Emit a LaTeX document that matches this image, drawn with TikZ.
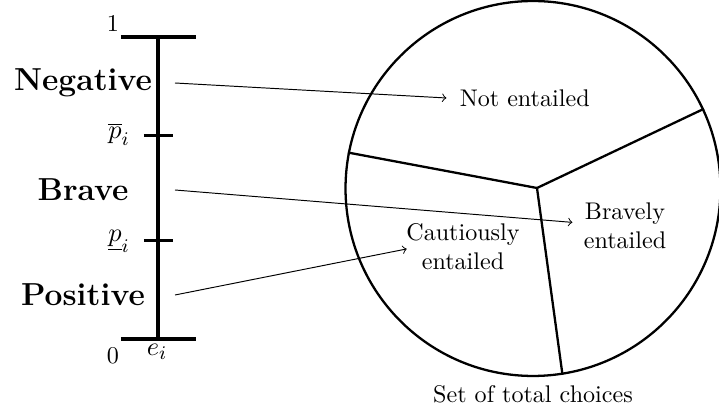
\documentclass[tikz,border=0pt]{standalone}
\usetikzlibrary{calc}
\begin{document}
\begin{tikzpicture}[x=0.415pt,y=-0.415pt,
  scaleline/.style={line width=1.4pt},
  part/.style={line width=0.95pt},
  pointer/.style={->, line width=0.4pt},
  catlabel/.style={font=\fontsize{13.2}{16}\selectfont\bfseries},
  mlabel/.style={font=\fontsize{11}{13}\selectfont},
  region/.style={align=center}]
\useasboundingbox (0,0) rectangle (719,413);

% the interval [0,1] for e_i with its two thresholds
\coordinate (top) at (158,37);
\coordinate (bot) at (158,339);
\draw[scaleline] (top) -- (bot);
\draw[scaleline] (121,37) -- (196,37);
\draw[scaleline] (121,339) -- (196,339);
\draw[scaleline] (144,135.3) -- (173.3,135.3);
\draw[scaleline] (144,240.7) -- (173.3,240.7);

\node (one)  at (113,23)  {1};
\node (zero) at (113,356) {0};
\node[mlabel] (ei)   at (157,352) {$e_i$};
\node[mlabel] (pbar) at (119,134) {$\overline{p}_i$};
\node[mlabel] (pund) at (119,241) {$\underline{p}_i$};

\node[catlabel] (neg) at (83,83)  {Negative};
\node[catlabel] (brv) at (83,190) {Brave};
\node[catlabel] (pos) at (83,295) {Positive};

% the set of total choices and its three parts
\node[draw, circle, part, minimum size=155.6pt, inner sep=0pt,
      label={below:Set of total choices}] (tc) at (533,188.5) {};
\coordinate (jn) at (537,188);
\draw[part] (tc.169.8) -- (jn) -- (tc.25.5);
\draw[part] (jn) -- (tc.-81);

\node[region] (notent) at (524.7,98)  {Not entailed};
\node[region] (brav)   at (625,226)   {Bravely\\entailed};
\node[region] (caut)   at (463,247)   {Cautiously\\entailed};

% pointers from each range of e_i to its part
\coordinate (src) at (175,0);
\draw[pointer] (neg -| src) -- ([xshift=-2pt]notent.west);
\draw[pointer] (brv -| src) -- ([xshift=-1.2pt,yshift=1.5pt]brav.west);
\draw[pointer] (pos -| src) -- ([xshift=3.7pt,yshift=-0.8pt]caut.west);
\end{tikzpicture}
\end{document}
